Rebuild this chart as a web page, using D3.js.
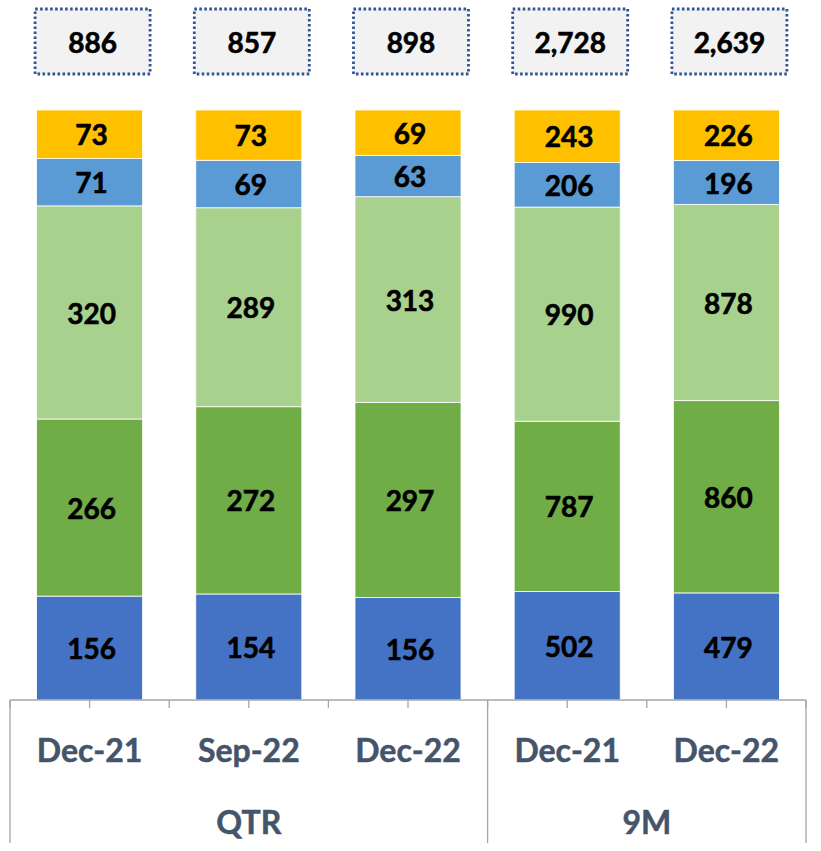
<!DOCTYPE html>
<html>
<head>
<meta charset="utf-8">
<script src="https://cdn.jsdelivr.net/npm/d3@7"></script>
<style>
  body { margin: 0; background: #fff; }
  svg { display: block; font-family: Lato, "Open Sans", sans-serif; }
</style>
</head>
<body>
<svg id="chart" width="821" height="851"></svg>
<script>
// categories (two-level axis)
var periods = ["Dec-21", "Sep-22", "Dec-22", "Dec-21", "Dec-22"];
var groups  = ["QTR", "QTR", "QTR", "9M", "9M"];

// series, bottom to top
var seriesA = [156, 154, 156, 502, 479];
var seriesB = [266, 272, 297, 787, 860];
var seriesC = [320, 289, 313, 990, 878];
var seriesD = [71, 69, 63, 206, 196];
var seriesE = [73, 73, 69, 243, 226];
var totals  = [886, 857, 898, 2728, 2639];

var seriesKeys = ["a", "b", "c", "d", "e"];
var colors = ["#4472c4", "#70ad47", "#a9d18e", "#5b9bd5", "#ffc000"];

var rows = periods.map(function(p, i) {
    return {key: groups[i] + "|" + p + "|" + i, period: p, group: groups[i],
            a: seriesA[i], b: seriesB[i], c: seriesC[i], d: seriesD[i], e: seriesE[i],
            total: totals[i]};
});

var svg = d3.select("#chart");
var axisY = 700, plotTop = 110, left = 10, right = 806;

var x = d3.scaleBand()
    .domain(rows.map(function(d) { return d.key; }))
    .range([left, right])
    .paddingInner(0.334)
    .paddingOuter(0.167);

var y = d3.scaleLinear().domain([0, 1]).range([axisY, plotTop]);

// 100% stacked
var stacked = d3.stack().keys(seriesKeys).offset(d3.stackOffsetExpand)(rows);

var layer = svg.selectAll("g.layer")
    .data(stacked)
    .enter().append("g")
    .attr("class", "layer")
    .attr("fill", function(d, i) { return colors[i]; });

layer.selectAll("rect")
    .data(function(d) { return d; })
    .enter().append("rect")
    .attr("x", function(d) { return x(d.data.key); })
    .attr("y", function(d) { return y(d[1]); })
    .attr("width", x.bandwidth())
    .attr("height", function(d) { return y(d[0]) - y(d[1]); })
    .attr("stroke", "#ffffff")
    .attr("stroke-width", 0.8);

// segment labels
stacked.forEach(function(s) {
    svg.append("g").selectAll("text")
        .data(s)
        .enter().append("text")
        .attr("x", function(d) { return x(d.data.key) + x.bandwidth() / 2 + 2; })
        .attr("y", function(d) { return (y(d[0]) + y(d[1])) / 2 + 1; })
        .attr("dy", "0.36em")
        .attr("text-anchor", "middle")
        .attr("font-size", 28)
        .attr("font-weight", 700)
        .attr("fill", "#000")
        .attr("stroke", "#000")
        .attr("stroke-width", 0.6)
        .text(function(d) { return d3.format(",")(d.data[s.key]); });
});

// total boxes
var boxW = 115, boxTop = 9, boxH = 65;
var box = svg.append("g").selectAll("g")
    .data(rows)
    .enter().append("g")
    .attr("transform", function(d) {
        return "translate(" + (x(d.key) + x.bandwidth() / 2 + 3 - boxW / 2) + "," + boxTop + ")";
    });

box.append("rect")
    .attr("width", boxW)
    .attr("height", boxH)
    .attr("fill", "#f2f2f2")
    .attr("stroke", "#2f5597")
    .attr("stroke-width", 2.8)
    .attr("stroke-dasharray", "2.6 2.4");

box.append("text")
    .attr("x", boxW / 2)
    .attr("y", boxH / 2 + 1)
    .attr("dy", "0.36em")
    .attr("text-anchor", "middle")
    .attr("font-size", 28)
    .attr("font-weight", 700)
    .attr("fill", "#000")
    .attr("stroke", "#000")
    .attr("stroke-width", 0.6)
    .text(function(d) { return d3.format(",")(d.total); });

// category axis
var axisColor = "#a6a6a6";
var step = x.step();
var ax = svg.append("g");

ax.append("line")
    .attr("x1", left).attr("x2", right)
    .attr("y1", axisY).attr("y2", axisY)
    .attr("stroke", axisColor).attr("stroke-width", 1.3);

// short ticks at bar centres and slot edges
var tickXs = [];
rows.forEach(function(d) {
    var c = x(d.key) + x.bandwidth() / 2;
    tickXs.push(c - step / 2, c);
});
tickXs.push(right);
ax.selectAll("line.tick")
    .data(tickXs)
    .enter().append("line")
    .attr("class", "tick")
    .attr("x1", function(d) { return d; }).attr("x2", function(d) { return d; })
    .attr("y1", axisY).attr("y2", axisY + 8)
    .attr("stroke", axisColor).attr("stroke-width", 1.3);

// group separators
var groupNames = Array.from(new Set(groups));
var groupSpans = groupNames.map(function(g) {
    var ks = rows.filter(function(d) { return d.group === g; });
    var x0 = x(ks[0].key) + x.bandwidth() / 2 - step / 2;
    var x1 = x(ks[ks.length - 1].key) + x.bandwidth() / 2 + step / 2;
    return {name: g, x0: x0, x1: x1};
});
var sepXs = [left].concat(groupSpans.map(function(g) { return g.x1; }));
ax.selectAll("line.sep")
    .data(sepXs)
    .enter().append("line")
    .attr("class", "sep")
    .attr("x1", function(d) { return d; }).attr("x2", function(d) { return d; })
    .attr("y1", axisY).attr("y2", 843)
    .attr("stroke", axisColor).attr("stroke-width", 1.3);

ax.selectAll("text.period")
    .data(rows)
    .enter().append("text")
    .attr("class", "period")
    .attr("x", function(d) { return x(d.key) + x.bandwidth() / 2; })
    .attr("y", 750)
    .attr("dy", "0.36em")
    .attr("text-anchor", "middle")
    .attr("font-size", 32)
    .attr("font-weight", 700)
    .attr("fill", "#44546a")
    .attr("stroke", "#44546a")
    .attr("stroke-width", 0.5)
    .text(function(d) { return d.period; });

ax.selectAll("text.group")
    .data(groupSpans)
    .enter().append("text")
    .attr("class", "group")
    .attr("x", function(d) { return (d.x0 + d.x1) / 2; })
    .attr("y", 822)
    .attr("dy", "0.36em")
    .attr("text-anchor", "middle")
    .attr("font-size", 32)
    .attr("font-weight", 700)
    .attr("fill", "#44546a")
    .attr("stroke", "#44546a")
    .attr("stroke-width", 0.5)
    .text(function(d) { return d.name; });
</script>
</body>
</html>
